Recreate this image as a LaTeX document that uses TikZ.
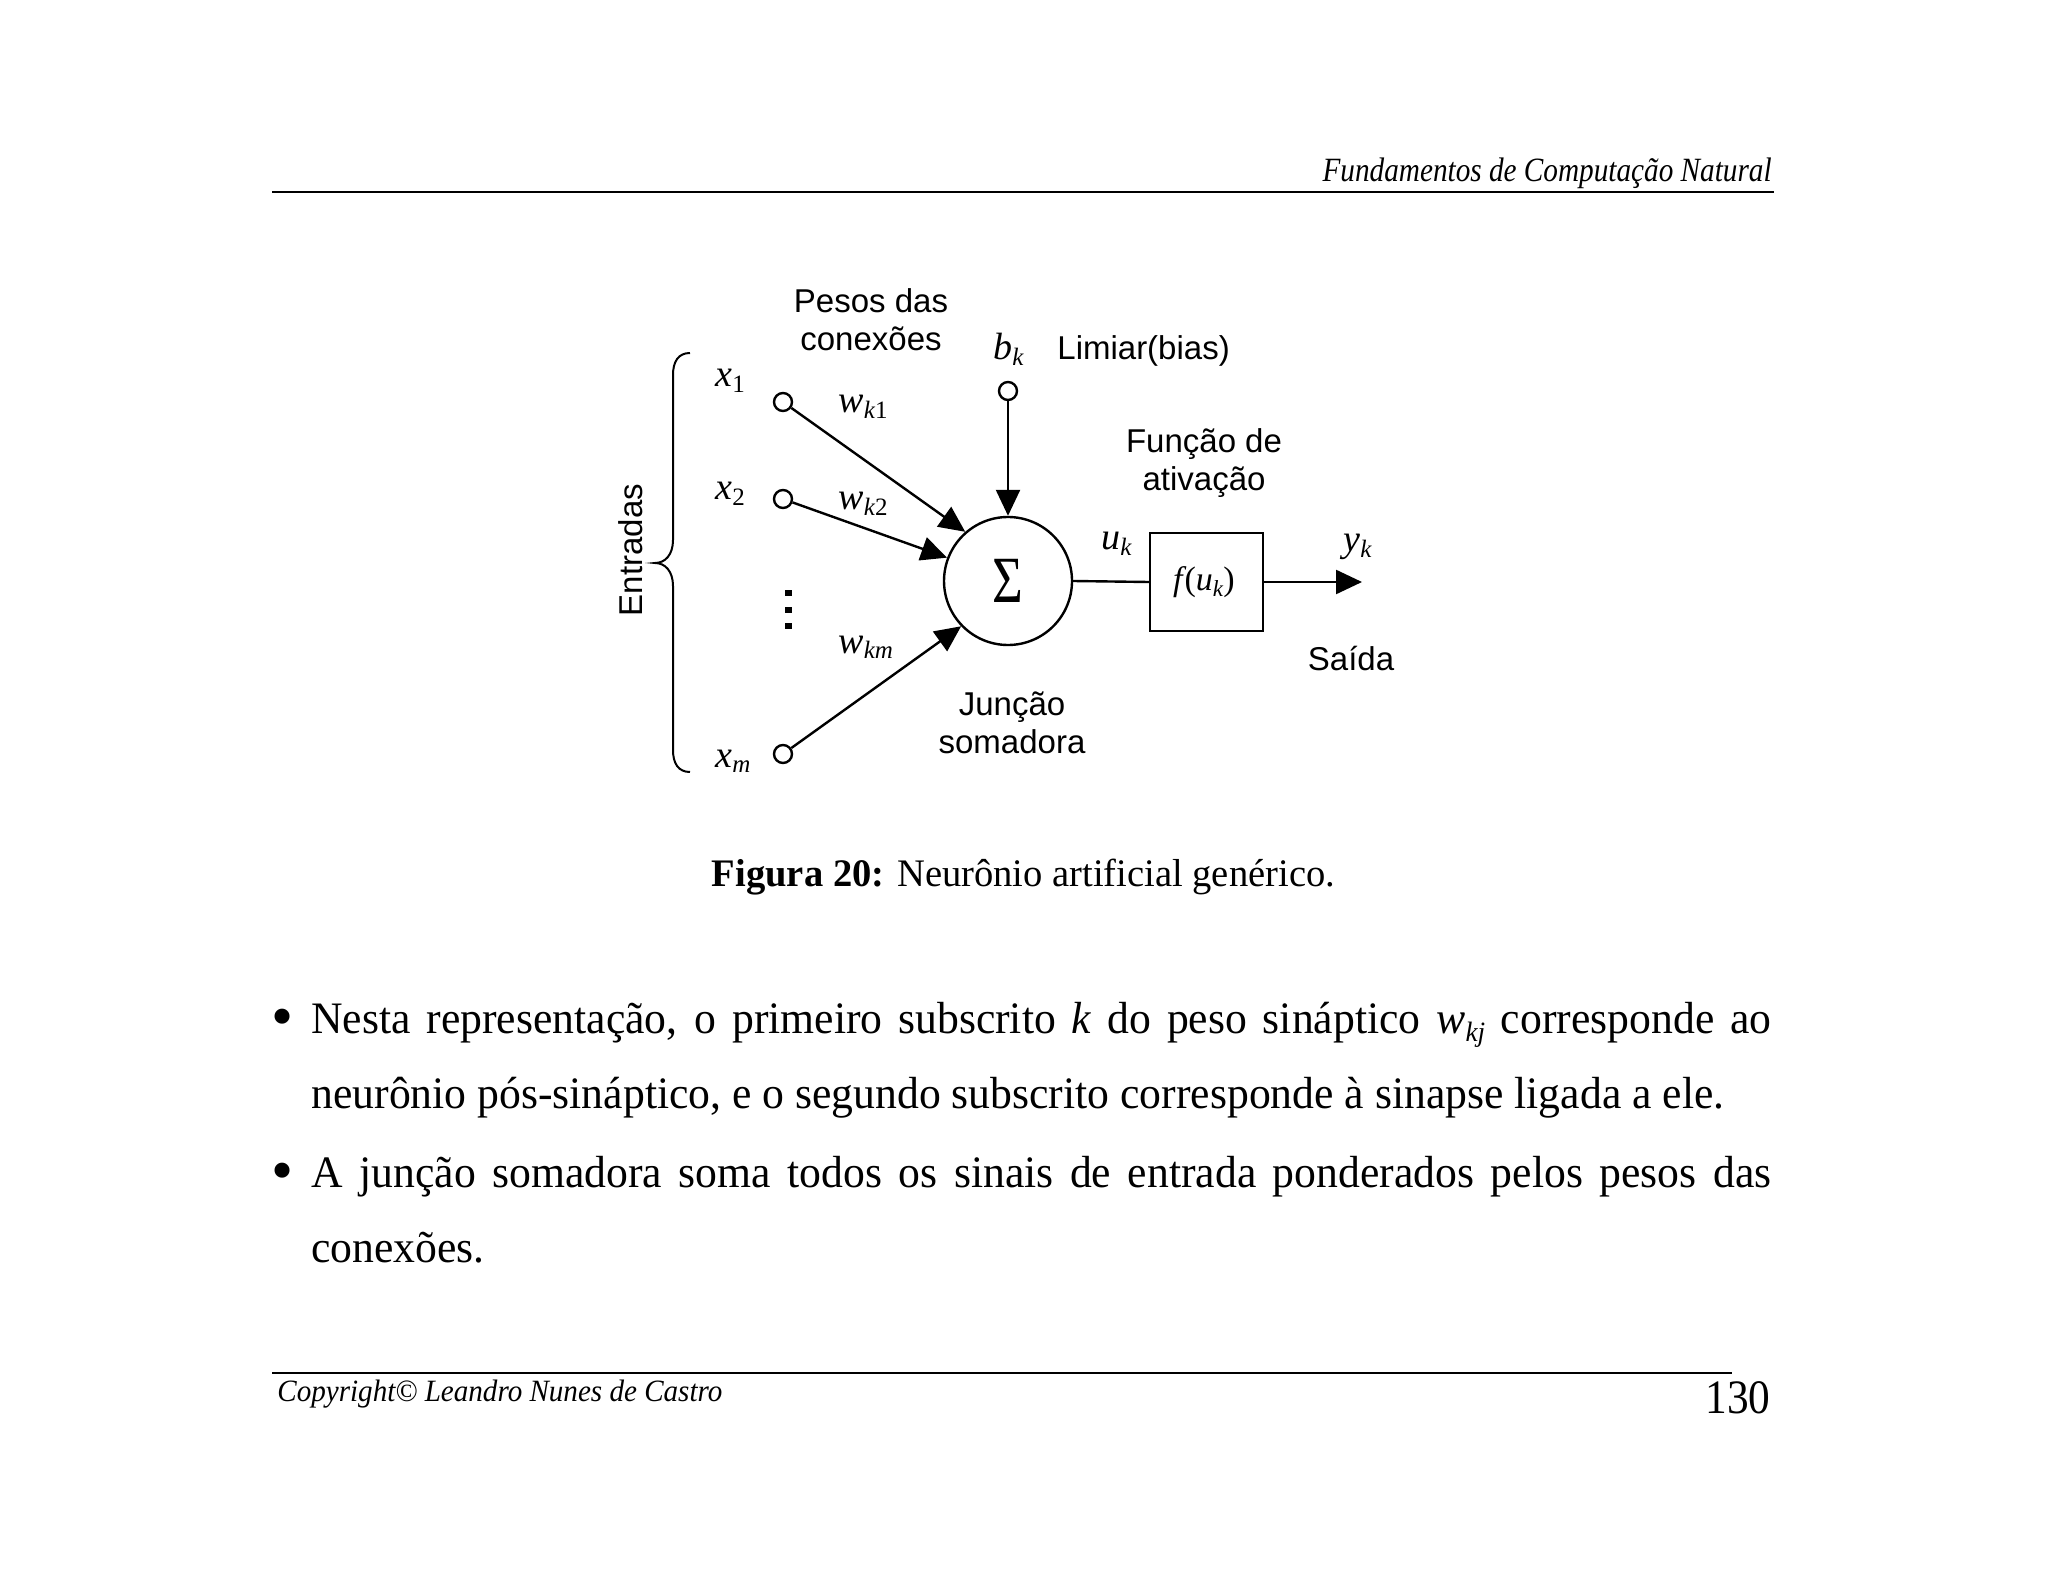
\documentclass[tikz,border=0pt]{standalone}
\usepackage{fontspec}
\setmainfont{Liberation Serif}
\newfontfamily\arialf{Liberation Sans}
\usetikzlibrary{arrows.meta}
\newlength\Ltwo
\newcommand\bodyfont{\fontsize{22.5}{25}\selectfont}
\newcommand\mv[2]{\textit{#1}\raisebox{-2.8pt}{\fontsize{12.5}{12.5}\selectfont #2}}
\begin{document}
\settowidth\Ltwo{\bodyfont neurônio pós-sináptico, e o segundo subscrito corresponde à sinapse ligada a ele.}%
\pgfmathsetmacro\sx{706.5/\Ltwo}%
\pgfmathsetlengthmacro\Wj{730pt/\sx}%
\begin{tikzpicture}[x=0.5pt,y=-0.5pt,
  lbl/.style={inner sep=0pt, font=\arialf\fontsize{16.5}{19}\selectfont},
  mth/.style={inner sep=0pt, font=\fontsize{19}{19}\selectfont, anchor=base west},
  term/.style={circle, draw, line width=1.2pt, minimum size=9pt, inner sep=0pt},
  conn/.style={line width=1.2pt, -{Triangle[length=13pt,width=12pt]}},
  plain/.style={line width=1.2pt},
  txt/.style={inner sep=0pt}]
\fill[white] (0,0) rectangle (2048,1582);
\useasboundingbox (0,0) rectangle (2048,1582);

% header / footer
\node[txt, anchor=base east] (head) at (1772,182) {\resizebox{224.5pt}{\height}{\fontsize{17}{18}\selectfont\itshape Fundamentos de Computação Natural}};
\draw[line width=1.2pt] (272,192) -- (1774,192);
\draw[line width=1.1pt] (272,1373) -- (1732,1373);
\node[txt, anchor=base west] (copy) at (277,1401) {\resizebox{222.5pt}{\height}{\fontsize{15.5}{16}\selectfont\itshape Copyright© Leandro Nunes de Castro}};
\node[txt, anchor=base east] (page) at (1771,1413) {\resizebox{32.5pt}{\height}{\fontsize{24}{26}\selectfont 130}};

% diagram nodes
\node[circle, draw, line width=1.2pt, minimum size=64pt, inner sep=0pt] (sigma) at (1008,581) {\fontsize{33}{33}\selectfont\scalebox{0.8}[1]{Σ}};
\node[term] (x1) at (783,402) {};
\node[term] (x2) at (783,499) {};
\node[term] (xm) at (783,754) {};
\node[term] (bk) at (1008,391) {};
\node[draw, line width=1.2pt, minimum width=56.5pt, minimum height=49pt, inner sep=0pt] (f) at (1206.5,582) {};
\node[txt, anchor=base, font=\fontsize{17}{17}\selectfont] (flab) at (1204,590) {\textit{f}\kern-1pt(\textit{u}\raisebox{-3pt}{\fontsize{11.5}{11.5}\selectfont\textit{k}})};
\coordinate (out) at (1362,582);

% connectors
\draw[conn] (x1) -- (sigma.131);
\draw[conn] (x2) -- (sigma.159);
\draw[conn] (xm) -- (sigma.224);
\draw[conn] (bk) -- (sigma.north);
\draw[plain] (sigma.east) -- (f.west);
\draw[conn] (f.east) -- (out);

% math labels
\node[mth] (lx1) at (715,387) {\mv{x}{1}};
\node[mth] (lx2) at (715,500) {\mv{x}{2}};
\node[mth] (lxm) at (715,767) {\mv{x}{\textit{m}}};
\node[mth] (lw1) at (838,413) {\mv{w}{\textit{k}1}};
\node[mth] (lw2) at (838,510) {\mv{w}{\textit{k}2}};
\node[mth] (lwm) at (838,653) {\mv{w}{\textit{km}}};
\node[mth] (lbk) at (993,360) {\mv{b}{\textit{k}}};
\node[mth] (luk) at (1101,550) {\mv{u}{\textit{k}}};
\node[mth] (lyk) at (1343,552) {\mv{y}{\textit{k}}};

% text labels
\node[lbl, anchor=base] (pesos) at (871,313) {\begin{tabular}[t]{@{}c@{}}Pesos das\\conexões\end{tabular}};
\node[lbl, anchor=base west] (limiar) at (1057,360) {Limiar(bias)};
\node[lbl, anchor=base] (funcao) at (1204,453) {\begin{tabular}[t]{@{}c@{}}Função de\\ativação\end{tabular}};
\node[lbl, anchor=base] (saida) at (1351,670) {Saída};
\node[lbl, anchor=base] (juncao) at (1012,715) {\begin{tabular}[t]{@{}c@{}}Junção\\somadora\end{tabular}};
\node[lbl, rotate=90] (entradas) at (631,550) {Entradas};

% dots
\fill (784.5,590) rectangle (791.5,596);
\fill (784.5,606.7) rectangle (791.5,612.7);
\fill (784.5,623.3) rectangle (791.5,629.3);

% brace
\draw[line width=1pt] (690,353) .. controls (678,353) and (673,362) .. (673,375) -- (673,540) .. controls (673,555) and (665,563) .. (655,563) .. controls (665,563) and (673,571) .. (673,586) -- (673,750) .. controls (673,763) and (678,772) .. (690,772);

% caption
\node[txt, anchor=base] (cap) at (1023.5,886) {\resizebox{311.5pt}{\height}{\fontsize{19.5}{20}\selectfont\textbf{Figura 20:} Neurônio artificial genérico.}};

% body text
\node[txt, anchor=base] (b1) at (283,1033) {\bodyfont\raisebox{-2pt}{\scalebox{1.4}{•}}};
\node[txt, anchor=base west] (l1) at (311,1033) {\scalebox{\sx}[1]{\bodyfont\makebox[\Wj][s]{Nesta representação, o primeiro subscrito \textit{k} do peso sináptico \textit{w}\raisebox{-4pt}{\fontsize{14}{14}\selectfont\textit{kj}} corresponde ao}}};
\node[txt, anchor=base west] (l2) at (311,1108) {\scalebox{\sx}[1]{\bodyfont neurônio pós-sináptico, e o segundo subscrito corresponde à sinapse ligada a ele.}};
\node[txt, anchor=base] (b2) at (283,1187) {\bodyfont\raisebox{-2pt}{\scalebox{1.4}{•}}};
\node[txt, anchor=base west] (l3) at (311,1187) {\scalebox{\sx}[1]{\bodyfont\makebox[\Wj][s]{A junção somadora soma todos os sinais de entrada ponderados pelos pesos das}}};
\node[txt, anchor=base west] (l4) at (311,1262) {\scalebox{\sx}[1]{\bodyfont conexões.}};
\end{tikzpicture}
\end{document}
